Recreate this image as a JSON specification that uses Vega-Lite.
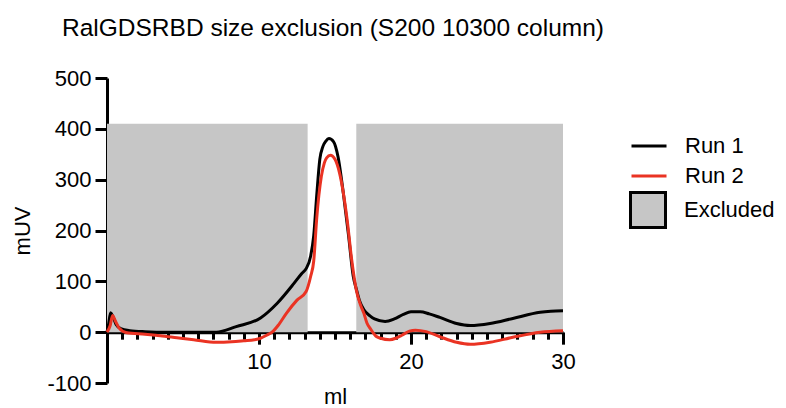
{
  "$schema": "https://vega.github.io/schema/vega-lite/v6.json",
  "width": 456,
  "height": 305,
  "autosize": "none",
  "padding": {"left": 107, "top": 78, "right": 223, "bottom": 25},
  "title": {
    "text": "RalGDSRBD size exclusion (S200 10300 column)",
    "anchor": "start",
    "frame": "group",
    "dx": -45,
    "fontSize": 24.5,
    "fontWeight": "normal",
    "baseline": "alphabetic",
    "offset": 7,
    "color": "black"
  },
  "config": {
    "font": "Liberation Sans",
    "view": {"stroke": null}
  },
  "datasets": {
    "regions": [
      {"start": 0, "end": 13.2, "low": 0, "high": 410, "label": "Excluded"},
      {"start": 16.4, "end": 30, "low": 0, "high": 410, "label": "Excluded"}
    ],
    "runs": [
      {"run": "Run 1", "ml": 0, "mUV": 0},
      {"run": "Run 1", "ml": 0.1, "mUV": 15},
      {"run": "Run 1", "ml": 0.24, "mUV": 38},
      {"run": "Run 1", "ml": 0.4, "mUV": 30},
      {"run": "Run 1", "ml": 0.6, "mUV": 15},
      {"run": "Run 1", "ml": 0.9, "mUV": 7},
      {"run": "Run 1", "ml": 1.5, "mUV": 3},
      {"run": "Run 1", "ml": 2.5, "mUV": 1},
      {"run": "Run 1", "ml": 4, "mUV": 0},
      {"run": "Run 1", "ml": 6, "mUV": 0},
      {"run": "Run 1", "ml": 7.2, "mUV": 0},
      {"run": "Run 1", "ml": 8.5, "mUV": 11},
      {"run": "Run 1", "ml": 10.1, "mUV": 28},
      {"run": "Run 1", "ml": 11.2, "mUV": 57},
      {"run": "Run 1", "ml": 12.3, "mUV": 96},
      {"run": "Run 1", "ml": 12.8, "mUV": 115},
      {"run": "Run 1", "ml": 13.1, "mUV": 125},
      {"run": "Run 1", "ml": 13.4, "mUV": 150},
      {"run": "Run 1", "ml": 13.6, "mUV": 190},
      {"run": "Run 1", "ml": 13.8, "mUV": 270},
      {"run": "Run 1", "ml": 14.0, "mUV": 340},
      {"run": "Run 1", "ml": 14.2, "mUV": 365},
      {"run": "Run 1", "ml": 14.4, "mUV": 376},
      {"run": "Run 1", "ml": 14.6, "mUV": 381},
      {"run": "Run 1", "ml": 14.9, "mUV": 375},
      {"run": "Run 1", "ml": 15.2, "mUV": 345},
      {"run": "Run 1", "ml": 15.55, "mUV": 273},
      {"run": "Run 1", "ml": 15.9, "mUV": 188},
      {"run": "Run 1", "ml": 16.2, "mUV": 110},
      {"run": "Run 1", "ml": 16.4, "mUV": 85},
      {"run": "Run 1", "ml": 16.6, "mUV": 63},
      {"run": "Run 1", "ml": 16.9, "mUV": 44},
      {"run": "Run 1", "ml": 17.3, "mUV": 32},
      {"run": "Run 1", "ml": 17.6, "mUV": 26},
      {"run": "Run 1", "ml": 18.3, "mUV": 21},
      {"run": "Run 1", "ml": 18.9, "mUV": 26},
      {"run": "Run 1", "ml": 19.5, "mUV": 35},
      {"run": "Run 1", "ml": 20.0, "mUV": 40},
      {"run": "Run 1", "ml": 20.6, "mUV": 40},
      {"run": "Run 1", "ml": 21.2, "mUV": 36},
      {"run": "Run 1", "ml": 21.9, "mUV": 29},
      {"run": "Run 1", "ml": 23.0, "mUV": 17},
      {"run": "Run 1", "ml": 23.9, "mUV": 13},
      {"run": "Run 1", "ml": 25.2, "mUV": 17},
      {"run": "Run 1", "ml": 26.7, "mUV": 27},
      {"run": "Run 1", "ml": 28.5, "mUV": 39},
      {"run": "Run 1", "ml": 29.2, "mUV": 41},
      {"run": "Run 1", "ml": 30, "mUV": 42},
      {"run": "Run 2", "ml": 0, "mUV": 0},
      {"run": "Run 2", "ml": 0.2, "mUV": 12},
      {"run": "Run 2", "ml": 0.37, "mUV": 33},
      {"run": "Run 2", "ml": 0.55, "mUV": 22},
      {"run": "Run 2", "ml": 0.8, "mUV": 8},
      {"run": "Run 2", "ml": 1.3, "mUV": -1},
      {"run": "Run 2", "ml": 2.5, "mUV": -4},
      {"run": "Run 2", "ml": 3.5, "mUV": -7},
      {"run": "Run 2", "ml": 4.6, "mUV": -11},
      {"run": "Run 2", "ml": 5.7, "mUV": -15},
      {"run": "Run 2", "ml": 7.2, "mUV": -20},
      {"run": "Run 2", "ml": 8.2, "mUV": -19},
      {"run": "Run 2", "ml": 9.0, "mUV": -17},
      {"run": "Run 2", "ml": 9.7, "mUV": -15},
      {"run": "Run 2", "ml": 10.1, "mUV": -12},
      {"run": "Run 2", "ml": 10.5, "mUV": -6},
      {"run": "Run 2", "ml": 10.9, "mUV": 1},
      {"run": "Run 2", "ml": 11.3, "mUV": 15},
      {"run": "Run 2", "ml": 11.8, "mUV": 37},
      {"run": "Run 2", "ml": 12.5, "mUV": 63},
      {"run": "Run 2", "ml": 13.1, "mUV": 80},
      {"run": "Run 2", "ml": 13.4, "mUV": 110},
      {"run": "Run 2", "ml": 13.6, "mUV": 140},
      {"run": "Run 2", "ml": 13.8, "mUV": 225},
      {"run": "Run 2", "ml": 14.1, "mUV": 306},
      {"run": "Run 2", "ml": 14.3, "mUV": 333},
      {"run": "Run 2", "ml": 14.45, "mUV": 343},
      {"run": "Run 2", "ml": 14.7, "mUV": 348},
      {"run": "Run 2", "ml": 15.0, "mUV": 340},
      {"run": "Run 2", "ml": 15.3, "mUV": 313},
      {"run": "Run 2", "ml": 15.8, "mUV": 221},
      {"run": "Run 2", "ml": 16.1, "mUV": 142},
      {"run": "Run 2", "ml": 16.4, "mUV": 83},
      {"run": "Run 2", "ml": 16.7, "mUV": 52},
      {"run": "Run 2", "ml": 16.9, "mUV": 37},
      {"run": "Run 2", "ml": 17.1, "mUV": 18},
      {"run": "Run 2", "ml": 17.3, "mUV": 8},
      {"run": "Run 2", "ml": 17.7, "mUV": -8},
      {"run": "Run 2", "ml": 18.0, "mUV": -12},
      {"run": "Run 2", "ml": 18.6, "mUV": -15},
      {"run": "Run 2", "ml": 19.0, "mUV": -12},
      {"run": "Run 2", "ml": 19.4, "mUV": -6},
      {"run": "Run 2", "ml": 19.9, "mUV": 2},
      {"run": "Run 2", "ml": 20.3, "mUV": 4},
      {"run": "Run 2", "ml": 21.0, "mUV": 1},
      {"run": "Run 2", "ml": 21.9, "mUV": -9},
      {"run": "Run 2", "ml": 23.0, "mUV": -20},
      {"run": "Run 2", "ml": 23.9, "mUV": -24},
      {"run": "Run 2", "ml": 25.2, "mUV": -20},
      {"run": "Run 2", "ml": 26.7, "mUV": -10},
      {"run": "Run 2", "ml": 28.5, "mUV": 0},
      {"run": "Run 2", "ml": 30, "mUV": 3}
    ]
  },
  "layer": [
    {
      "data": {"name": "regions"},
      "mark": {"type": "rect"},
      "encoding": {
        "x": {
          "field": "start",
          "type": "quantitative",
          "scale": {"domain": [0, 30], "nice": false, "zero": false},
          "axis": {
            "orient": "bottom",
            "offset": -50.833,
            "values": [1,2,3,4,5,6,7,8,9,10,11,12,13,14,15,16,17,18,19,20,21,22,23,24,25,26,27,28,29,30],
            "labels": false,
            "title": null,
            "grid": false,
            "tickSize": 7,
            "tickWidth": 3,
            "tickColor": "black",
            "domainWidth": 3,
            "domainColor": "black"
          }
        },
        "x2": {"field": "end"},
        "y": {
          "field": "low",
          "type": "quantitative",
          "scale": {"domain": [-100, 500], "nice": false, "zero": false},
          "axis": {
            "title": "mUV",
            "values": [-100, 0, 100, 200, 300, 400, 500],
            "labelExpr": "'' + datum.value",
            "grid": false,
            "tickSize": 12,
            "tickWidth": 3,
            "tickColor": "black",
            "domainWidth": 3,
            "domainColor": "black",
            "labelFontSize": 22,
            "labelColor": "black",
            "labelPadding": 4,
            "labelFlush": false,
            "titleFontSize": 22,
            "titleFontWeight": "normal",
            "titleColor": "black",
            "titlePadding": 12
          }
        },
        "y2": {"field": "high"},
        "fill": {
          "field": "label",
          "type": "nominal",
          "scale": {"domain": ["Excluded"], "range": ["#c6c6c6"]},
          "legend": {
            "title": null,
            "orient": "none",
            "legendX": 522,
            "legendY": 113,
            "padding": 0,
            "symbolType": "square",
            "symbolSize": 1225,
            "symbolStrokeColor": "black",
            "symbolStrokeWidth": 3,
            "labelFontSize": 22,
            "labelColor": "black",
            "labelOffset": 17
          }
        }
      }
    },
    {
      "data": {"name": "runs"},
      "mark": {"type": "line", "interpolate": "monotone", "strokeWidth": 3},
      "encoding": {
        "x": {
          "field": "ml",
          "type": "quantitative",
          "scale": {"domain": [0, 30], "nice": false, "zero": false},
          "axis": {
            "orient": "bottom",
            "offset": -50.833,
            "values": [10, 20, 30],
            "domain": false,
            "grid": false,
            "tickSize": 12,
            "tickWidth": 3,
            "tickColor": "black",
            "labelFontSize": 22,
            "labelColor": "black",
            "labelPadding": 7,
            "labelFlush": false,
            "title": "ml",
            "titleFontSize": 22,
            "titleFontWeight": "normal",
            "titleColor": "black",
            "titlePadding": 14
          }
        },
        "y": {
          "field": "mUV",
          "type": "quantitative",
          "scale": {"domain": [-100, 500], "nice": false, "zero": false},
          "axis": {
            "title": "mUV",
            "values": [-100, 0, 100, 200, 300, 400, 500],
            "labelExpr": "'' + datum.value",
            "grid": false,
            "tickSize": 12,
            "tickWidth": 3,
            "tickColor": "black",
            "domainWidth": 3,
            "domainColor": "black",
            "labelFontSize": 22,
            "labelColor": "black",
            "labelPadding": 4,
            "labelFlush": false,
            "titleFontSize": 22,
            "titleFontWeight": "normal",
            "titleColor": "black",
            "titlePadding": 12
          }
        },
        "color": {
          "field": "run",
          "type": "nominal",
          "scale": {"domain": ["Run 1", "Run 2"], "range": ["black", "#ea3323"]},
          "legend": {
            "title": null,
            "orient": "none",
            "legendX": 523,
            "legendY": 49,
            "padding": 0,
            "symbolType": "stroke",
            "symbolSize": 1225,
            "symbolStrokeWidth": 3,
            "labelFontSize": 22,
            "labelColor": "black",
            "labelOffset": 17,
            "rowPadding": -3.5
          }
        }
      }
    }
  ],
  "resolve": {"axis": {"x": "independent"}}
}
